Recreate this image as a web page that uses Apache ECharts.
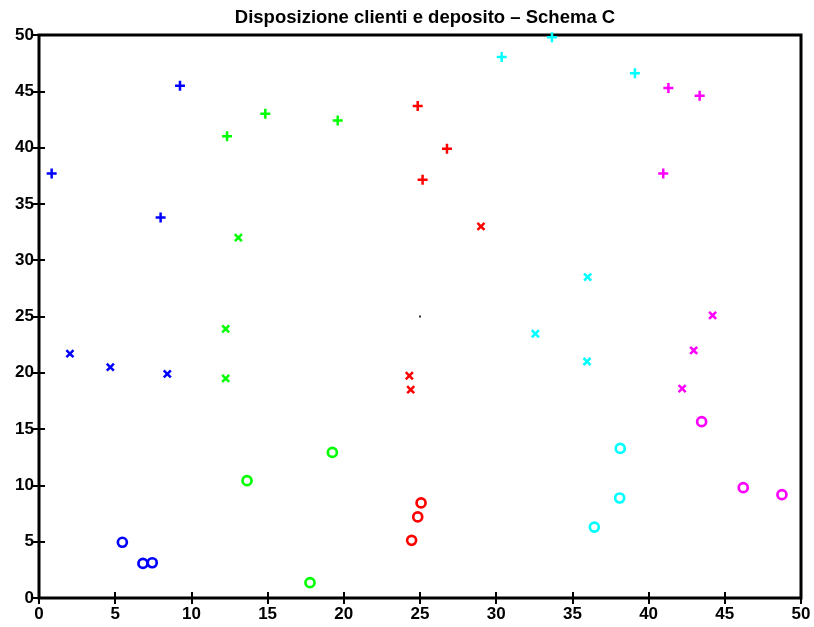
<!DOCTYPE html>
<html>
<head>
<meta charset="utf-8">
<script src="https://cdn.jsdelivr.net/npm/echarts@6/dist/echarts.min.js"></script>
<style>
  html, body { margin: 0; padding: 0; background: #fff; }
  #chart { width: 814px; height: 627px; }
</style>
</head>
<body>
<div id="chart"></div>
<script>
// clienti per gruppo: + , x , o
const bluePlus = [[0.83, 37.7], [7.98, 33.8], [9.25, 45.5]];
const blueCross = [[2.03, 21.7], [4.68, 20.5], [8.42, 19.9]];
const blueCircle = [[5.47, 4.95], [6.82, 3.07], [7.43, 3.13]];

const greenPlus = [[12.34, 41.0], [14.85, 43.0], [19.6, 42.4]];
const greenCross = [[13.08, 32.0], [12.25, 23.9], [12.25, 19.5]];
const greenCircle = [[13.65, 10.42], [19.25, 12.93], [17.78, 1.36]];

const redPlus = [[24.85, 43.7], [26.77, 39.9], [25.17, 37.15]];
const redCross = [[29.0, 33.0], [24.3, 19.74], [24.39, 18.5]];
const redCircle = [[24.45, 5.12], [24.85, 7.2], [25.07, 8.44]];

const cyanPlus = [[30.36, 48.05], [33.66, 49.8], [39.1, 46.6]];
const cyanCross = [[32.57, 23.47], [35.96, 21.0], [36.0, 28.5]];
const cyanCircle = [[36.44, 6.3], [38.1, 8.88], [38.14, 13.28]];

const magentaPlus = [[41.3, 45.3], [43.35, 44.6], [40.96, 37.7]];
const magentaCross = [[44.2, 25.1], [42.96, 21.99], [42.2, 18.6]];
const magentaCircle = [[43.48, 15.66], [46.21, 9.8], [48.75, 9.18]];

const depot = [[25, 25]];

const groups = [
  { color: '#0000ff', plus: bluePlus, cross: blueCross, circle: blueCircle },
  { color: '#00ff00', plus: greenPlus, cross: greenCross, circle: greenCircle },
  { color: '#ff0000', plus: redPlus, cross: redCross, circle: redCircle },
  { color: '#00ffff', plus: cyanPlus, cross: cyanCross, circle: cyanCircle },
  { color: '#ff00ff', plus: magentaPlus, cross: magentaCross, circle: magentaCircle },
];

const plusPath = 'path://M3,0H5V3H8V5H5V8H3V5H0V3H3Z';
const font = '"Liberation Sans", Arial, sans-serif';

const series = [];
groups.forEach((g) => {
  series.push({
    type: 'scatter', data: g.plus, symbol: plusPath, symbolSize: 10,
    itemStyle: { color: g.color, opacity: 1 }, silent: true,
  });
  series.push({
    type: 'scatter', data: g.cross, symbol: plusPath, symbolSize: 10, symbolRotate: 45,
    itemStyle: { color: g.color, opacity: 1 }, silent: true,
  });
  series.push({
    type: 'scatter', data: g.circle, symbol: 'circle', symbolSize: 9,
    itemStyle: { color: 'rgba(0,0,0,0)', borderColor: g.color, borderWidth: 2.7, opacity: 1 },
    silent: true,
  });
});
series.push({
  type: 'scatter', data: depot, symbol: 'rect', symbolSize: 2,
  itemStyle: { color: '#000' }, silent: true,
});

const axisBase = {
  type: 'value', min: 0, max: 50, interval: 5,
  splitLine: { show: false },
  axisLine: { show: false },
  axisTick: { show: true, inside: true, length: 6, lineStyle: { color: '#000', width: 2 } },
};

const chart = echarts.init(document.getElementById('chart'));
chart.setOption({
  animation: false,
  backgroundColor: '#fff',
  title: {
    text: 'Disposizione clienti e deposito – Schema C',
    left: 420, top: 3, textAlign: 'center',
    textStyle: { fontFamily: font, fontWeight: 'bold', fontSize: 18.5, color: '#000' },
  },
  grid: {
    left: 39, right: 13, top: 35, bottom: 29,
    show: true, borderColor: '#000', borderWidth: 3, backgroundColor: '#fff',
  },
  xAxis: [
    Object.assign({}, axisBase, {
      position: 'bottom',
      axisLabel: { color: '#000', fontFamily: font, fontWeight: 'bold', fontSize: 17, margin: 8,
        showMinLabel: true, showMaxLabel: true },
    }),
    Object.assign({}, axisBase, { position: 'top', axisLabel: { show: false } }),
  ],
  yAxis: [
    Object.assign({}, axisBase, {
      position: 'left',
      axisLabel: { color: '#000', fontFamily: font, fontWeight: 'bold', fontSize: 17, margin: 5,
        showMinLabel: true, showMaxLabel: true },
    }),
    Object.assign({}, axisBase, { position: 'right', axisLabel: { show: false } }),
  ],
  series,
});
</script>
</body>
</html>
